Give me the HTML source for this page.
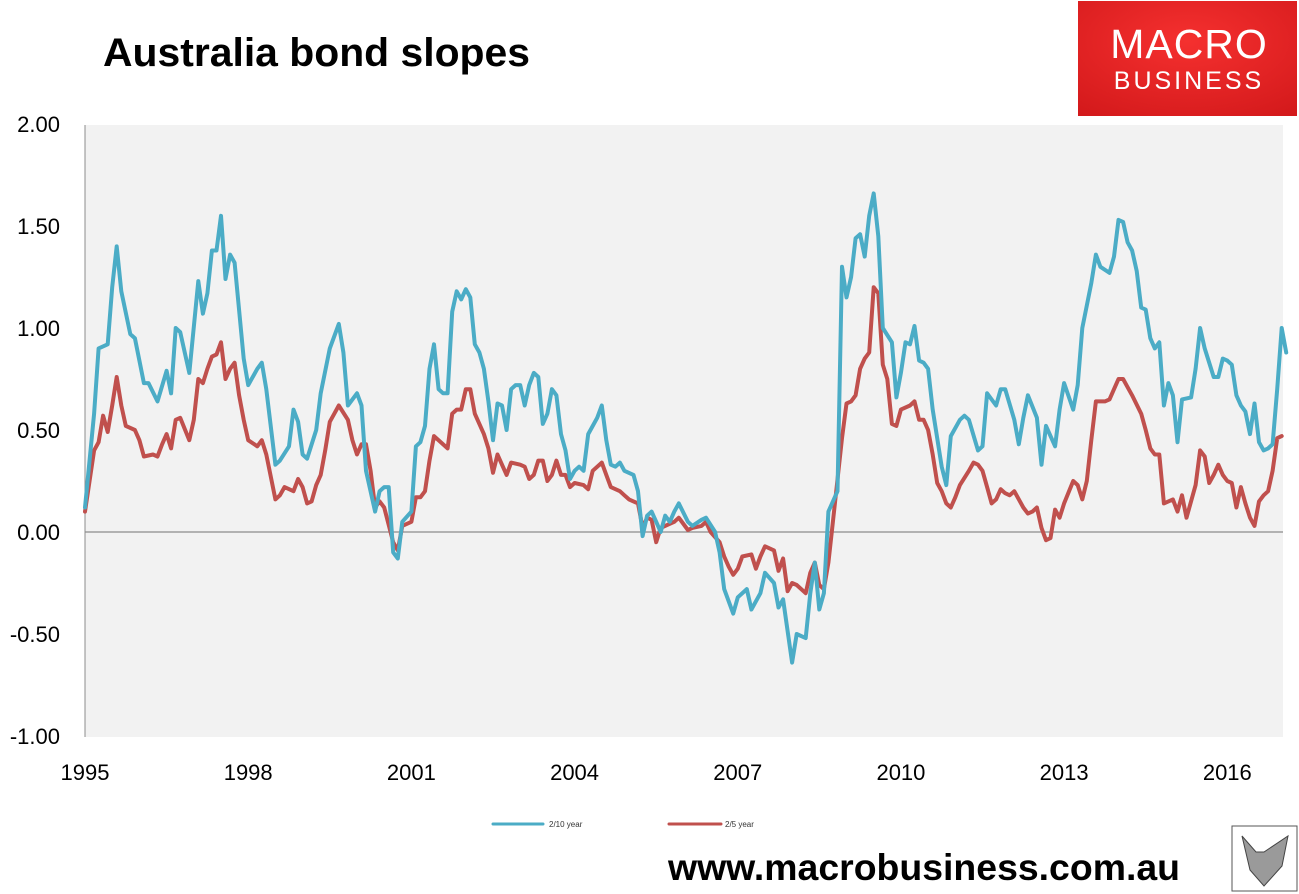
<!DOCTYPE html>
<html><head><meta charset="utf-8"><style>
body{margin:0;background:#fff;font-family:"Liberation Sans",sans-serif}
svg{display:block}
</style></head><body>
<svg id="chart" width="1299" height="894" viewBox="0 0 1299 894" xmlns="http://www.w3.org/2000/svg">
<text x="103" y="66" font-size="40" font-weight="bold" fill="#000" textLength="427" lengthAdjust="spacingAndGlyphs">Australia bond slopes</text>
<g>
<defs><radialGradient id="lg" cx="0.5" cy="0.35" r="0.8"><stop offset="0" stop-color="#f5302f"/><stop offset="1" stop-color="#d3191b"/></radialGradient></defs>
<rect x="1078" y="1" width="219" height="115" fill="url(#lg)"/>
<text x="1189" y="58" font-size="41" fill="#fff" text-anchor="middle" letter-spacing="1">MACRO</text>
<text x="1189" y="89" font-size="25" fill="#fff" text-anchor="middle" letter-spacing="3">BUSINESS</text>
</g>
<rect x="85" y="125" width="1198" height="612" fill="#f2f2f2"/>
<g id="axes"></g>
<g id="series"></g>
<g>
<line x1="493" y1="824" x2="543" y2="824" stroke="#4bacc6" stroke-width="3" stroke-linecap="round"/>
<text x="549" y="827" font-size="8" fill="#333">2/10 year</text>
<line x1="669" y1="824" x2="721" y2="824" stroke="#c0504d" stroke-width="3" stroke-linecap="round"/>
<text x="725" y="827" font-size="8" fill="#333">2/5 year</text>
</g>
<text x="668" y="880" font-size="37" font-weight="bold" fill="#000" textLength="512" lengthAdjust="spacingAndGlyphs">www.macrobusiness.com.au</text>
<g>
<rect x="1232" y="826" width="65" height="65" fill="#fff" stroke="#555" stroke-width="1"/>
<path d="M1242 836 L1256 852 L1264 852 L1288 836 L1282 866 L1264 886 L1250 870 Z" fill="#9a9a9a" stroke="#444"/>
</g>
</svg>
<script>
const blueMonths=[0,2,3,5,6,7,8,10,11,13,14,16,18,19,20,21,23,25,26,27,28,29,30,31,32,33,35,36,38,39,40,42,43,45,46,47,48,49,51,52,54,56,57,58,60,61,62,64,65,66,67,68,69,70,72,73,74,75,76,77,78,79,80,81,82,83,84,85,86,87,88,89,90,91,92,93,94,95,96,97,98,99,100,101,102,103,104,105,106,107,108,109,110,111,113,114,115,116,117,118,119,121,122,123,124,125,126,127,128,129,130,131,133,134,136,137,139,140,141,143,144,146,147,149,150,152,153,154,156,157,159,160,161,162,163,164,166,167,168,169,170,171,172,173,174,175,176,178,179,180,181,182,183,184,185,186,187,189,190,191,193,194,195,197,198,199,201,202,203,205,206,207,208,210,211,212,214,215,216,218,219,220,222,223,224,226,227,228,229,230,231,232,233,234,235,236,237,238,239,240,241,242,244,245,246,247,249,250,251,252,253,254,255,256,257,258,259,260,261,262,263,264,265];
const blueValues=[0.12,0.58,0.9,0.92,1.2,1.4,1.18,0.97,0.95,0.73,0.73,0.64,0.79,0.68,1.0,0.98,0.78,1.23,1.07,1.17,1.38,1.38,1.55,1.24,1.36,1.32,0.85,0.72,0.8,0.83,0.70,0.33,0.35,0.42,0.60,0.54,0.38,0.36,0.5,0.68,0.9,1.02,0.88,0.62,0.68,0.62,0.3,0.1,0.2,0.22,0.22,-0.1,-0.13,0.05,0.1,0.42,0.44,0.52,0.8,0.92,0.7,0.68,0.68,1.08,1.18,1.14,1.19,1.15,0.92,0.88,0.8,0.64,0.45,0.63,0.62,0.5,0.7,0.72,0.72,0.62,0.72,0.78,0.76,0.53,0.58,0.7,0.67,0.48,0.4,0.26,0.3,0.32,0.3,0.48,0.56,0.62,0.45,0.33,0.32,0.34,0.3,0.28,0.2,-0.02,0.08,0.1,0.05,0.0,0.08,0.05,0.1,0.14,0.05,0.03,0.06,0.07,0.0,-0.1,-0.28,-0.4,-0.32,-0.28,-0.38,-0.3,-0.2,-0.25,-0.37,-0.33,-0.64,-0.5,-0.52,-0.3,-0.15,-0.38,-0.3,0.1,0.2,1.3,1.15,1.25,1.44,1.46,1.35,1.55,1.66,1.45,1.0,0.93,0.66,0.78,0.93,0.92,1.01,0.84,0.83,0.8,0.6,0.32,0.23,0.47,0.55,0.57,0.55,0.4,0.42,0.68,0.62,0.7,0.7,0.55,0.43,0.56,0.67,0.56,0.33,0.52,0.42,0.6,0.73,0.6,0.72,1.0,1.22,1.36,1.3,1.27,1.35,1.53,1.52,1.42,1.38,1.28,1.1,1.09,0.95,0.9,0.93,0.62,0.73,0.67,0.44,0.65,0.66,0.8,1.0,0.9,0.76,0.76,0.85,0.84,0.82,0.67,0.62,0.59,0.48,0.63,0.44,0.4,0.41,0.43,0.7,1.0,0.88];
const redMonths=[0,2,3,4,5,6,7,8,9,11,12,13,15,16,17,18,19,20,21,23,24,25,26,27,28,29,30,31,32,33,34,35,36,38,39,40,42,43,44,46,47,48,49,50,51,52,53,54,55,56,58,59,60,61,62,63,64,65,66,68,69,70,72,73,74,75,76,77,78,80,81,82,83,84,85,86,88,89,90,91,92,93,94,96,97,98,99,100,101,102,103,104,105,106,107,108,110,111,112,114,115,116,118,119,120,122,123,124,125,126,127,129,130,131,133,134,136,137,138,140,141,142,143,144,145,147,148,149,150,152,153,154,155,156,157,159,160,161,162,163,164,165,167,168,169,170,171,172,173,174,175,176,177,178,179,180,182,183,184,185,186,187,188,189,190,191,192,193,195,196,197,198,199,200,201,202,203,204,205,207,208,209,210,211,212,213,214,215,216,218,219,220,221,222,223,225,226,227,228,229,230,231,233,234,235,236,237,238,239,240,241,242,243,245,246,247,248,249,250,251,252,253,254,255,256,257,258,259,260,261,262,263,264];
const redValues=[0.1,0.4,0.44,0.57,0.49,0.62,0.76,0.62,0.52,0.5,0.45,0.37,0.38,0.37,0.43,0.48,0.41,0.55,0.56,0.45,0.55,0.75,0.73,0.8,0.86,0.87,0.93,0.75,0.8,0.83,0.67,0.55,0.45,0.42,0.45,0.38,0.16,0.18,0.22,0.2,0.26,0.22,0.14,0.15,0.23,0.28,0.4,0.54,0.58,0.62,0.55,0.45,0.38,0.43,0.43,0.3,0.12,0.15,0.12,-0.05,-0.09,0.03,0.05,0.17,0.17,0.2,0.35,0.47,0.45,0.41,0.58,0.6,0.6,0.7,0.7,0.58,0.48,0.41,0.29,0.38,0.33,0.28,0.34,0.33,0.32,0.26,0.28,0.35,0.35,0.25,0.28,0.35,0.28,0.28,0.22,0.24,0.23,0.21,0.3,0.34,0.28,0.22,0.2,0.18,0.16,0.14,0.02,0.07,0.06,-0.05,0.02,0.04,0.05,0.07,0.01,0.02,0.03,0.05,0.0,-0.05,-0.12,-0.17,-0.21,-0.18,-0.12,-0.11,-0.18,-0.12,-0.07,-0.09,-0.19,-0.13,-0.29,-0.25,-0.26,-0.3,-0.2,-0.15,-0.26,-0.28,-0.15,0.05,0.46,0.63,0.64,0.67,0.8,0.85,0.88,1.2,1.17,0.82,0.75,0.53,0.52,0.6,0.62,0.64,0.55,0.55,0.5,0.38,0.24,0.2,0.14,0.12,0.17,0.23,0.3,0.34,0.33,0.3,0.22,0.14,0.16,0.21,0.19,0.18,0.2,0.12,0.09,0.1,0.12,0.02,-0.04,-0.03,0.11,0.07,0.14,0.25,0.23,0.16,0.25,0.45,0.64,0.64,0.65,0.7,0.75,0.75,0.71,0.67,0.58,0.5,0.41,0.38,0.38,0.14,0.15,0.16,0.1,0.18,0.07,0.23,0.4,0.37,0.24,0.28,0.33,0.28,0.25,0.24,0.12,0.22,0.14,0.07,0.03,0.15,0.18,0.2,0.3,0.46,0.47];
const yTicks=[2.0,1.5,1.0,0.5,0.0,-0.5,-1.0];
const yTickLabels=["2.00","1.50","1.00","0.50","0.00","-0.50","-1.00"];
const xTickYears=[1995,1998,2001,2004,2007,2010,2013,2016];

const NS="http://www.w3.org/2000/svg";
const X0=85,PXM=4.533,Y0=532,PXU=204;
function xMonth(m){return X0+m*PXM;}
function xYear(y){return xMonth((y-1995)*12);}
function yVal(v){return Y0-v*PXU;}
const axes=document.getElementById('axes'),ser=document.getElementById('series');
function mk(tag,attrs,parent){const e=document.createElementNS(NS,tag);for(const k in attrs)e.setAttribute(k,attrs[k]);parent.appendChild(e);return e;}
const yAxis=mk('line',{x1:X0,y1:125,x2:X0,y2:737,stroke:'#8c8c8c','stroke-width':1},axes);


const zero=mk('line',{x1:X0,y1:yVal(0),x2:1283,y2:yVal(0),stroke:'#8c8c8c','stroke-width':1.3},axes);


yTicks.forEach((v,i)=>{
  const t=mk('text',{x:60,y:yVal(v)+8,'font-size':22,'text-anchor':'end',fill:'#000'},axes);
  t.textContent=yTickLabels[i];
  
  
});
xTickYears.forEach(yr=>{
  const t=mk('text',{x:xYear(yr),y:780,'font-size':22,'text-anchor':'middle',fill:'#000'},axes);
  t.textContent=String(yr);
  
  
});
function line(ms,vs,color,name){
  const d=ms.map((m,i)=>(i?'L':'M')+xMonth(m).toFixed(1)+' '+yVal(vs[i]).toFixed(1)).join(' ');
  const p=mk('path',{d:d,fill:'none',stroke:color,'stroke-width':4,'stroke-linejoin':'round','stroke-linecap':'round'},ser);
  
  
}
line(redMonths,redValues,'#c0504d','series-2-5-year');
line(blueMonths,blueValues,'#4bacc6','series-2-10-year');
</script>
</body></html>
